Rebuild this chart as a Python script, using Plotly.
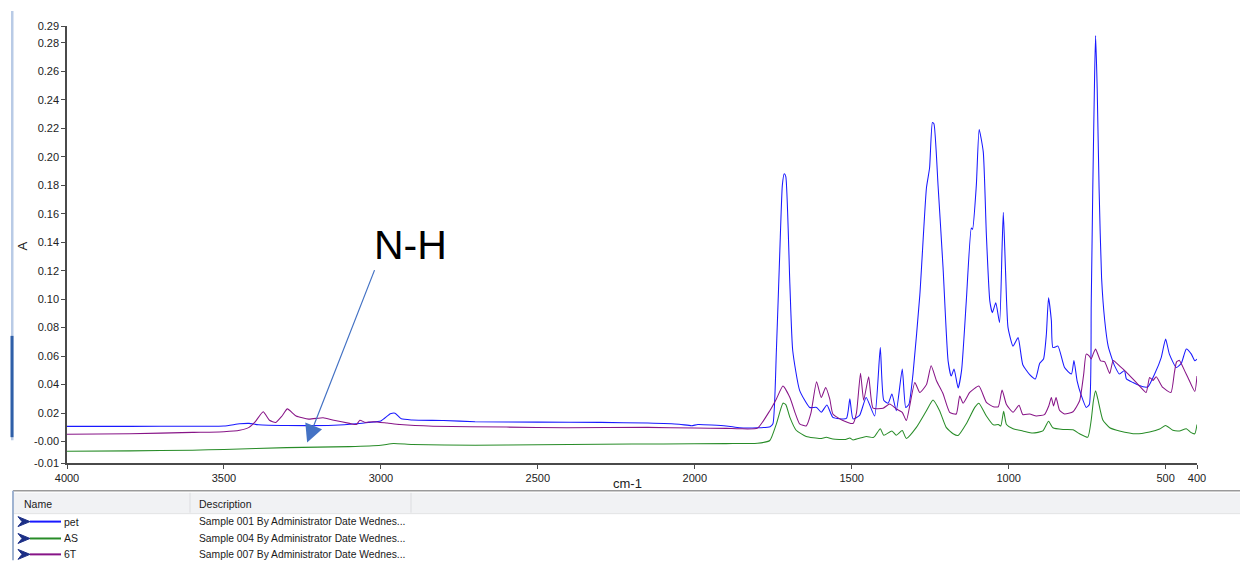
import plotly.graph_objects as go

# ---------------- data (wavenumber cm-1, absorbance A) ----------------
pet_wn = [4000, 3800, 3600, 3500, 3450, 3420, 3390, 3300, 3150, 3080, 3040, 3000, 2970, 2955, 2935,
          2900, 2800, 2700, 2500, 2300, 2150, 2050, 2010, 1990, 1900, 1857, 1800, 1760, 1751, 1740,
          1729, 1721, 1715, 1710, 1697, 1688, 1666, 1634, 1612, 1597, 1579, 1560, 1517, 1506, 1496,
          1475, 1454, 1427, 1409, 1398, 1384, 1372, 1358, 1339, 1328, 1318, 1305, 1283, 1262, 1252,
          1243, 1238, 1225, 1209, 1193, 1183, 1174, 1161, 1150, 1135, 1119, 1115, 1103, 1094, 1081,
          1071, 1060, 1052, 1041, 1029, 1021, 1017, 1010, 1002, 986, 970, 955, 933, 915, 901,
          889, 880, 873, 864, 859, 843, 822, 800, 792, 782, 768, 753, 743, 737, 732,
          726, 723, 718, 712, 704, 694, 683, 672, 662, 647, 631, 625, 604, 572, 556,
          535, 514, 500, 488, 466, 450, 434, 418, 407, 400]
pet_abs = [0.0107, 0.0107, 0.0108, 0.0110, 0.0125, 0.0128, 0.0118, 0.0113, 0.0115, 0.0125, 0.0135, 0.0145, 0.0195, 0.0200, 0.0160,
           0.0152, 0.0148, 0.0140, 0.0137, 0.0135, 0.0130, 0.0122, 0.0112, 0.0120, 0.0110, 0.0097, 0.0097, 0.0105, 0.0125, 0.064,
           0.134, 0.180, 0.188, 0.186, 0.110, 0.064, 0.036, 0.024, 0.024, 0.0206, 0.0257, 0.017, 0.0163, 0.030, 0.016,
           0.0184, 0.031, 0.018, 0.066, 0.029, 0.027, 0.0334, 0.0217, 0.051, 0.024, 0.026, 0.047, 0.103, 0.178, 0.192,
           0.224, 0.223, 0.180, 0.122, 0.0567, 0.046, 0.051, 0.0376, 0.050, 0.0986, 0.150, 0.149, 0.180, 0.219, 0.2035,
           0.145, 0.0986, 0.0905, 0.0974, 0.0835, 0.136, 0.161, 0.120, 0.080, 0.067, 0.073, 0.054, 0.047, 0.044, 0.055,
           0.058, 0.075, 0.101, 0.085, 0.066, 0.067, 0.052, 0.0474, 0.057, 0.0427, 0.032, 0.024, 0.026, 0.096, 0.178,
           0.259, 0.285, 0.248, 0.178, 0.115, 0.085, 0.067, 0.059, 0.053, 0.0474, 0.050, 0.044, 0.0415, 0.0385, 0.0385,
           0.0474, 0.059, 0.072, 0.0614, 0.052, 0.055, 0.065, 0.0614, 0.0567, 0.058]

as_wn = [4000, 3800, 3600, 3500, 3300, 3100, 3000, 2960, 2900, 2700, 2500, 2300, 2100, 1900, 1857,
         1800, 1761, 1740, 1719, 1710, 1697, 1677, 1645, 1600, 1581, 1560, 1520, 1506, 1496, 1454,
         1430, 1409, 1398, 1372, 1358, 1339, 1326, 1294, 1262, 1241, 1220, 1199, 1177, 1161, 1135,
         1108, 1095, 1071, 1049, 1033, 1025, 1016, 1007, 986, 955, 923, 891, 873, 859, 827,
         795, 774, 748, 737, 730, 723, 716, 700, 678, 647, 594, 551, 519, 500, 477,
         456, 434, 420, 407, 400]
as_abs = [-0.0068, -0.0065, -0.0060, -0.0055, -0.0042, -0.0035, -0.0025, -0.0013, -0.0020, -0.0025, -0.0022, -0.0018, -0.0016, -0.0014, -0.0013,
          -0.0012, 0.0008, 0.0125, 0.027, 0.026, 0.017, 0.008, 0.0036, 0.0022, 0.0030, 0.0018, 0.0015, 0.0026, 0.0012, 0.0036,
          0.0030, 0.009, 0.0045, 0.0075, 0.0045, 0.0078, 0.0022, 0.010, 0.0217, 0.0292, 0.0217, 0.010, 0.0055, 0.0043, 0.0125,
          0.024, 0.027, 0.018, 0.0118, 0.012, 0.011, 0.0213, 0.012, 0.009, 0.0075, 0.006, 0.0075, 0.0143, 0.0097, 0.0085,
          0.0083, 0.0055, 0.0031, 0.0152, 0.0287, 0.0357, 0.030, 0.0152, 0.0097, 0.0075, 0.0055, 0.0068, 0.0088, 0.0113, 0.0080,
          0.0075, 0.0090, 0.0065, 0.0055, 0.012]

t6_wn = [4000, 3800, 3600, 3500, 3450, 3420, 3400, 3375, 3355, 3335, 3315, 3298, 3270, 3230, 3184,
         3150, 3100, 3078, 3067, 3050, 3024, 2980, 2939, 2834, 2600, 2408, 2150, 2000, 1900, 1857,
         1800, 1761, 1740, 1719, 1697, 1680, 1666, 1645, 1630, 1612, 1597, 1583, 1570, 1560, 1530,
         1496, 1485, 1472, 1462, 1446, 1432, 1400, 1379, 1358, 1339, 1326, 1299, 1283, 1262, 1247,
         1230, 1209, 1188, 1167, 1156, 1145, 1124, 1095, 1071, 1049, 1033, 1021, 1007, 986, 967,
         955, 933, 912, 886, 872, 864, 857, 849, 838, 822, 795, 774, 761, 753, 743,
         737, 730, 723, 707, 694, 678, 667, 647, 626, 583, 562, 551, 540, 530, 509,
         483, 472, 465, 456, 440, 429, 407, 400]
t6_abs = [0.0052, 0.0055, 0.0065, 0.0070, 0.0080, 0.0100, 0.0140, 0.0210, 0.0150, 0.0135, 0.0180, 0.0230, 0.0180, 0.0158, 0.0168,
          0.0150, 0.0128, 0.0120, 0.0150, 0.0135, 0.0140, 0.0130, 0.0120, 0.0108, 0.0102, 0.0098, 0.0100, 0.0095, 0.0093, 0.0090,
          0.0095, 0.0217, 0.030, 0.039, 0.031, 0.020, 0.0125, 0.011, 0.020, 0.042, 0.031, 0.038, 0.030, 0.0194, 0.015,
          0.0127, 0.020, 0.048, 0.029, 0.0455, 0.0235, 0.0235, 0.0264, 0.023, 0.0206, 0.0148, 0.0415, 0.0345, 0.040, 0.0532,
          0.0427, 0.0336, 0.0206, 0.0194, 0.032, 0.027, 0.0345, 0.039, 0.0276, 0.0245, 0.0245, 0.0362, 0.026, 0.0206, 0.0255,
          0.019, 0.0194, 0.018, 0.019, 0.0252, 0.031, 0.025, 0.031, 0.022, 0.0194, 0.021, 0.0287, 0.0474, 0.0614, 0.060,
          0.058, 0.062, 0.065, 0.0567, 0.056, 0.0478, 0.057, 0.0532, 0.049, 0.039, 0.0345, 0.045, 0.043, 0.0455, 0.038,
          0.0345, 0.0485, 0.056, 0.057, 0.050, 0.045, 0.0352, 0.046]

series_names = ["pet", "AS", "6T"]
series_desc = ["Sample 001 By Administrator Date Wednes...",
               "Sample 004 By Administrator Date Wednes...",
               "Sample 007 By Administrator Date Wednes..."]

x_tick_vals = [4000, 3500, 3000, 2500, 2000, 1500, 1000, 500, 400]
x_tick_text = ["4000", "3500", "3000", "2500", "2000", "1500", "1000", "500", "400"]
y_tick_vals = [-0.015, 0.0, 0.02, 0.04, 0.06, 0.08, 0.10, 0.12, 0.14, 0.16, 0.18, 0.20, 0.22, 0.24, 0.26, 0.28, 0.2917]
y_tick_text = ["-0.01", "-0.00", "0.02", "0.04", "0.06", "0.08", "0.10", "0.12", "0.14", "0.16", "0.18", "0.20",
               "0.22", "0.24", "0.26", "0.28", "0.29"]

# ---------------- styling ----------------
# the page body has an 8px margin, so the figure starts at (8, 8) in the window;
# all placement helpers below work in window (page) pixels.
OFF = 8
W, H = 1248 - OFF, 561 - OFF
PLOT_L, PLOT_R, PLOT_T, PLOT_B = 67, 1197, 23, 463          # page pixels of plot area
ML, MR, MT, MB = PLOT_L - OFF, W - (PLOT_R - OFF), PLOT_T - OFF, H - (PLOT_B - OFF)
colors = ["rgb(25,25,255)", "rgb(40,140,40)", "rgb(135,20,135)"]
FONT = "Liberation Sans"


def px(x):
    return (x - PLOT_L) / (PLOT_R - PLOT_L)


def py(y):
    return (PLOT_B - y) / (PLOT_B - PLOT_T)


fig = go.Figure()
for nm, wn, ab, c in zip(series_names, [pet_wn, as_wn, t6_wn], [pet_abs, as_abs, t6_abs], colors):
    fig.add_trace(go.Scatter(x=wn, y=ab, mode="lines", name=nm, showlegend=False,
                             line=dict(color=c, width=1.05, shape="spline", smoothing=0.5)))

axis_common = dict(showgrid=False, zeroline=False, showline=True, linecolor="#4a4a4a", linewidth=1.5,
                   ticks="outside", ticklen=4, tickwidth=1, tickcolor="#4a4a4a",
                   tickfont=dict(family=FONT, size=11, color="#222222"))

fig.update_layout(
    width=W, height=H,
    margin=dict(l=ML, r=MR, t=MT, b=MB, pad=0),
    paper_bgcolor="white", plot_bgcolor="white",
    xaxis=dict(range=[4000, 400], tickmode="array", tickvals=x_tick_vals, ticktext=x_tick_text, **axis_common),
    yaxis=dict(range=[-0.015, 0.2917], tickmode="array", tickvals=y_tick_vals, ticktext=y_tick_text, **axis_common),
)

annotations = []
shapes = []

# axis titles
annotations.append(dict(text="A", x=px(22), y=py(245), xref="paper", yref="paper", showarrow=False,
                        textangle=-90, font=dict(family=FONT, size=13, color="#222222"),
                        xanchor="center", yanchor="middle"))
annotations.append(dict(text="cm-1", x=px(627), y=py(484), xref="paper", yref="paper", showarrow=False,
                        font=dict(family=FONT, size=13, color="#222222"), xanchor="center", yanchor="middle"))

# N-H annotation
annotations.append(dict(text="N-H", x=px(410), y=py(244), xref="paper", yref="paper", showarrow=False,
                        font=dict(family=FONT, size=41, color="black"), xanchor="center", yanchor="middle"))
annotations.append(dict(text="", x=3235, y=-0.0007, xref="x", yref="y", showarrow=True,
                        ax=68, ay=-174, axref="pixel", ayref="pixel",
                        arrowhead=2, arrowsize=3, arrowwidth=1.2, arrowcolor="#4472C4", standoff=0))

# window chrome on the left
shapes.append(dict(type="rect", xref="paper", yref="paper", x0=px(11), x1=px(13.5), y0=py(440), y1=py(8),
                   fillcolor="#b9cbe6", line=dict(width=0), layer="above"))
shapes.append(dict(type="rect", xref="paper", yref="paper", x0=px(10.5), x1=px(13.5), y0=py(437), y1=py(335),
                   fillcolor="#2f5fa8", line=dict(width=0), layer="above"))

# table below the chart
shapes.append(dict(type="line", xref="paper", yref="paper", x0=px(13), x1=px(1248), y0=py(491), y1=py(491),
                   line=dict(color="#9a9a9a", width=1.5)))
shapes.append(dict(type="rect", xref="paper", yref="paper", x0=px(14), x1=px(1248), y0=py(514), y1=py(493),
                   fillcolor="#f1f2f4", line=dict(width=0)))
shapes.append(dict(type="line", xref="paper", yref="paper", x0=px(14), x1=px(1248), y0=py(514), y1=py(514),
                   line=dict(color="#e2e3e5", width=1)))
for xc in [190, 411]:
    shapes.append(dict(type="line", xref="paper", yref="paper", x0=px(xc), x1=px(xc), y0=py(513), y1=py(493),
                       line=dict(color="#dcdde0", width=1)))
shapes.append(dict(type="line", xref="paper", yref="paper", x0=px(13), x1=px(13), y0=py(561), y1=py(491),
                   line=dict(color="#9fb3d1", width=2)))

annotations.append(dict(text="Name", x=px(22), y=py(504), xref="paper", yref="paper", showarrow=False,
                        font=dict(family=FONT, size=10.5, color="#1a1a1a"), xanchor="left", yanchor="middle"))
annotations.append(dict(text="Description", x=px(197), y=py(504), xref="paper", yref="paper", showarrow=False,
                        font=dict(family=FONT, size=10.5, color="#1a1a1a"), xanchor="left", yanchor="middle"))

row_y = [522, 539, 555]
for nm, desc, c, ry in zip(series_names, series_desc, colors, row_y):
    # chevron icon
    path = "M {},{} L {},{} L {},{} L {},{} Z".format(px(18), py(ry - 5), px(30), py(ry), px(18), py(ry + 5),
                                                    px(22), py(ry))
    shapes.append(dict(type="path", xref="paper", yref="paper", path=path, fillcolor="#1c2f86",
                       line=dict(color="#1c2f86", width=1)))
    shapes.append(dict(type="line", xref="paper", yref="paper", x0=px(30), x1=px(61), y0=py(ry), y1=py(ry),
                       line=dict(color=c, width=2)))
    annotations.append(dict(text=nm, x=px(62), y=py(ry), xref="paper", yref="paper", showarrow=False,
                            font=dict(family=FONT, size=10.5, color="#1a1a1a"), xanchor="left", yanchor="middle"))
    annotations.append(dict(text=desc, x=px(197), y=py(ry), xref="paper", yref="paper", showarrow=False,
                            font=dict(family=FONT, size=10.3, color="#1a1a1a"), xanchor="left", yanchor="middle"))

fig.update_layout(annotations=annotations, shapes=shapes)
fig.write_html("out.html")
